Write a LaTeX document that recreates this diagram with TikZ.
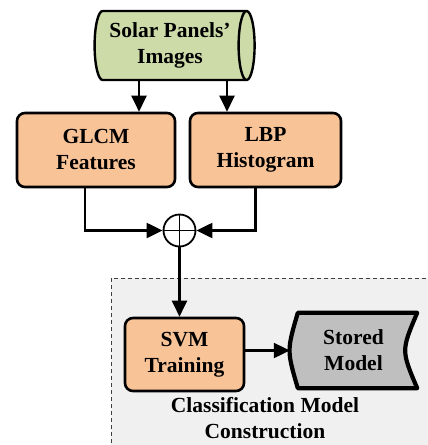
\documentclass[tikz,border=0pt]{standalone}
\usepackage{fontspec}
\setmainfont{Liberation Serif}
\usepackage{tikz}
\usetikzlibrary{shapes.geometric}
\usetikzlibrary{arrows.meta}
\usetikzlibrary{backgrounds}

\definecolor{imggreen}{RGB}{205,219,168}
\definecolor{boxorange}{RGB}{249,195,152}
\definecolor{modelgray}{RGB}{191,191,191}
\definecolor{regiongray}{RGB}{240,240,240}

\tikzset{
  procbox/.style={draw,line width=2.6pt,rounded corners=8pt,fill=boxorange,align=center,inner sep=0pt},
  arr/.style={line width=2.2pt,-{Triangle[length=16pt,width=15pt]}}
}

\begin{document}
\begin{tikzpicture}[x=1pt,y=-1pt,font=\fontsize{21.5}{26}\selectfont\bfseries]
\useasboundingbox (0,0) rectangle (428,445);
\node (img) [cylinder,draw,line width=2.4pt,fill=imggreen,aspect=0.35,minimum width=69pt,minimum height=160pt,align=center,inner sep=0pt] at (170,45.5) {Solar Panels'\\Images};
\node (glcm) [procbox,minimum width=158pt,minimum height=74pt] at (96,150) {GLCM\\Features};
\node (lbp) [procbox,minimum width=151pt,minimum height=74pt] at (265.5,150) {LBP\\Histogram};
\node (sum) [circle,draw,line width=1.8pt,minimum size=32pt,inner sep=0pt,
  path picture={\draw[line width=1.5pt] (path picture bounding box.north) -- (path picture bounding box.south)
    (path picture bounding box.west) -- (path picture bounding box.east);}] at (179.5,230.5) {};
\node (svm) [procbox,minimum width=119pt,minimum height=73pt] at (184.5,354.5) {SVM\\Training};
\node (stored) [minimum width=127pt,minimum height=75pt,inner sep=0pt,align=center] at (353.5,350.5) {Stored\\Model};
\node (lbl) [align=center] at (265,418) {Classification Model\\Construction};
\begin{scope}[on background layer]
\draw[line width=1pt,draw=black!75,fill=regiongray,dash pattern=on 4pt off 3pt] (111,278) rectangle (440,460);
\draw[line width=4.2pt,fill=modelgray,line join=round] ([xshift=8pt]stored.north west) -- (stored.north east)
  .. controls ([xshift=-16pt]stored.east) .. (stored.south east)
  -- ([xshift=8pt]stored.south west)
  .. controls ([xshift=-3pt]stored.west) .. cycle;
\end{scope}
\draw[arr] ([xshift=-31pt]img.south) -- ([xshift=-31pt]img.south |- glcm.north);
\draw[arr] ([xshift=57pt]img.south) -- ([xshift=57pt]img.south |- lbp.north);
\draw[arr] ([xshift=-11pt]glcm.south) |- (sum.west);
\draw[arr] ([xshift=-10pt]lbp.south) |- (sum.east);
\draw[arr] (sum.south) -- (sum.south |- svm.north);
\draw[arr] (svm.east |- stored.west) -- (stored.west);
\end{tikzpicture}
\end{document}
